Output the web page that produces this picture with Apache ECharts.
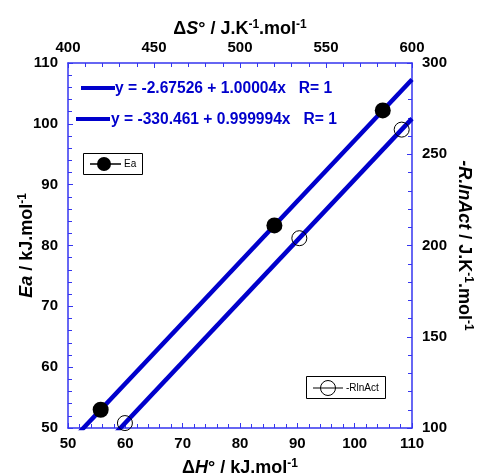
<!DOCTYPE html>
<html>
<head>
<meta charset="utf-8">
<script src="https://cdn.jsdelivr.net/npm/echarts@6/dist/echarts.min.js"></script>
<style>html,body{margin:0;padding:0;background:#fff}#c{width:480px;height:476px}</style>
</head>
<body>
<div id="c"></div>
<script>
// ---- data ----
const dH = [55.7, 86.0, 104.9];          // ΔH° (bottom axis)
const Ea = [53.0, 83.3, 102.2];          // Ea (left axis)
const dS = [433.1, 534.5, 594.0];        // ΔS° (top axis)
const RlnAct = [102.7, 204.0, 263.5];    // -R.lnAct (right axis)
const fitEaX = [50, 110];                // fit line Ea endpoints
const fitEaY = [47.3, 107.3];
const fitRX = [400, 600];                // fit line -RlnAct endpoints
const fitRY = [69.5, 269.5];
const fitTexts = ['y = -2.67526 + 1.00004x   R= 1', 'y = -330.461 + 0.999994x   R= 1'];
const legendNames = ['Ea', '-RlnAct'];

const FONT = "'Liberation Sans', Arial, sans-serif";
const AX = '#3535f0';
const LINE = '#0000cc';

function zip(a, b) { return a.map((v, i) => [v, b[i]]); }

const labelStyle = { color: '#000', fontWeight: 'bold', fontSize: 15, fontFamily: FONT };
function axisCommon(extra) {
  return Object.assign({
    type: 'value',
    axisLine: { show: true, lineStyle: { color: AX, width: 1.5 } },
    axisTick: { show: true, inside: true, length: 5, lineStyle: { color: AX, width: 1 } },
    minorTick: { show: true, splitNumber: 5, length: 4, lineStyle: { color: AX, width: 1 } },
    splitLine: { show: false },
    minorSplitLine: { show: false },
    axisLabel: Object.assign({ margin: 8 }, labelStyle),
    nameLocation: 'middle',
    nameMoveOverlap: false,
    nameTextStyle: { color: '#000', fontFamily: FONT, fontWeight: 'bold', fontSize: 18,
      rich: {
        n: { fontSize: 18, fontWeight: 'bold', fontFamily: FONT, color: '#000' },
        i: { fontSize: 18, fontWeight: 'bold', fontStyle: 'italic', fontFamily: FONT, color: '#000' },
        s: { fontSize: 12, fontWeight: 'bold', fontFamily: FONT, color: '#000', padding: [0, 0, 9, 0] }
      } }
  }, extra);
}

const chart = echarts.init(document.getElementById('c'), null, { renderer: 'canvas' });
chart.setOption({
  animation: false,
  backgroundColor: '#fff',
  grid: { left: 68, right: 68, top: 63, bottom: 48, containLabel: false, outerBoundsMode: 'none' },
  xAxis: [
    axisCommon({ position: 'bottom', min: 50, max: 110, interval: 10,
      name: '{n|Δ}{i|H}{n|° / kJ.mol}{s|-1}', nameGap: 30 }),
    axisCommon({ position: 'top', min: 400, max: 600, interval: 50,
      name: '{n|Δ}{i|S}{n|° / J.K}{s|-1}{n|.mol}{s|-1}', nameGap: 23 })
  ],
  yAxis: [
    axisCommon({ position: 'left', min: 50, max: 110, interval: 10,
      name: '{i|Ea}{n| / kJ.mol}{s|-1}', nameGap: 30, nameRotate: 90,
      axisLabel: Object.assign({ margin: 10 }, labelStyle) }),
    axisCommon({ position: 'right', min: 100, max: 300, interval: 50,
      name: '{i|-R.lnAct}{n| / J.K}{s|-1}{n|.mol}{s|-1}', nameGap: 41, nameRotate: -90,
      axisLabel: Object.assign({ margin: 10 }, labelStyle) })
  ],
  series: [
    { type: 'line', xAxisIndex: 0, yAxisIndex: 0, data: zip(fitEaX, fitEaY), symbol: 'none',
      clip: true, lineStyle: { color: LINE, width: 4.5 }, z: 2 },
    { type: 'line', xAxisIndex: 1, yAxisIndex: 1, data: zip(fitRX, fitRY), symbol: 'none',
      clip: true, lineStyle: { color: LINE, width: 4.5 }, z: 2 },
    { name: legendNames[0], type: 'scatter', xAxisIndex: 0, yAxisIndex: 0, data: zip(dH, Ea),
      symbol: 'circle', symbolSize: 16, itemStyle: { color: '#000', opacity: 1 }, z: 5 },
    { name: legendNames[1], type: 'scatter', xAxisIndex: 1, yAxisIndex: 1, data: zip(dS, RlnAct),
      symbol: 'circle', symbolSize: 15, itemStyle: { color: 'rgba(0,0,0,0)', borderColor: '#000', borderWidth: 1, opacity: 1 }, z: 5 }
  ],
  graphic: [
    // fit equation annotations
    { type: 'line', shape: { x1: 81, y1: 88, x2: 115, y2: 88 }, style: { stroke: LINE, lineWidth: 4 } },
    { type: 'text', x: 115, y: 89, style: { text: fitTexts[0], font: 'bold 15.6px ' + FONT, fill: LINE, verticalAlign: 'middle', align: 'left' } },
    { type: 'line', shape: { x1: 76, y1: 119, x2: 110, y2: 119 }, style: { stroke: LINE, lineWidth: 4 } },
    { type: 'text', x: 111, y: 120, style: { text: fitTexts[1], font: 'bold 15.6px ' + FONT, fill: LINE, verticalAlign: 'middle', align: 'left' } },
    // legend box Ea
    { type: 'rect', shape: { x: 83.5, y: 153.5, width: 59, height: 21 }, style: { fill: '#fff', stroke: '#000', lineWidth: 1 } },
    { type: 'line', shape: { x1: 90, y1: 164, x2: 121, y2: 164 }, style: { stroke: '#000', lineWidth: 1.5 } },
    { type: 'circle', shape: { cx: 104, cy: 164, r: 7 }, style: { fill: '#000' } },
    { type: 'text', x: 124, y: 164, style: { text: legendNames[0], font: '10px ' + FONT, fill: '#000', verticalAlign: 'middle' } },
    // legend box -RlnAct
    { type: 'rect', shape: { x: 306.5, y: 376.5, width: 79, height: 22 }, style: { fill: '#fff', stroke: '#000', lineWidth: 1 } },
    { type: 'line', shape: { x1: 313, y1: 388, x2: 343, y2: 388 }, style: { stroke: '#000', lineWidth: 1 } },
    { type: 'circle', shape: { cx: 328, cy: 388, r: 7.5 }, style: { fill: 'rgba(0,0,0,0)', stroke: '#000', lineWidth: 1 } },
    { type: 'text', x: 346, y: 388, style: { text: legendNames[1], font: '10px ' + FONT, fill: '#000', verticalAlign: 'middle' } }
  ]
});
</script>
</body>
</html>
